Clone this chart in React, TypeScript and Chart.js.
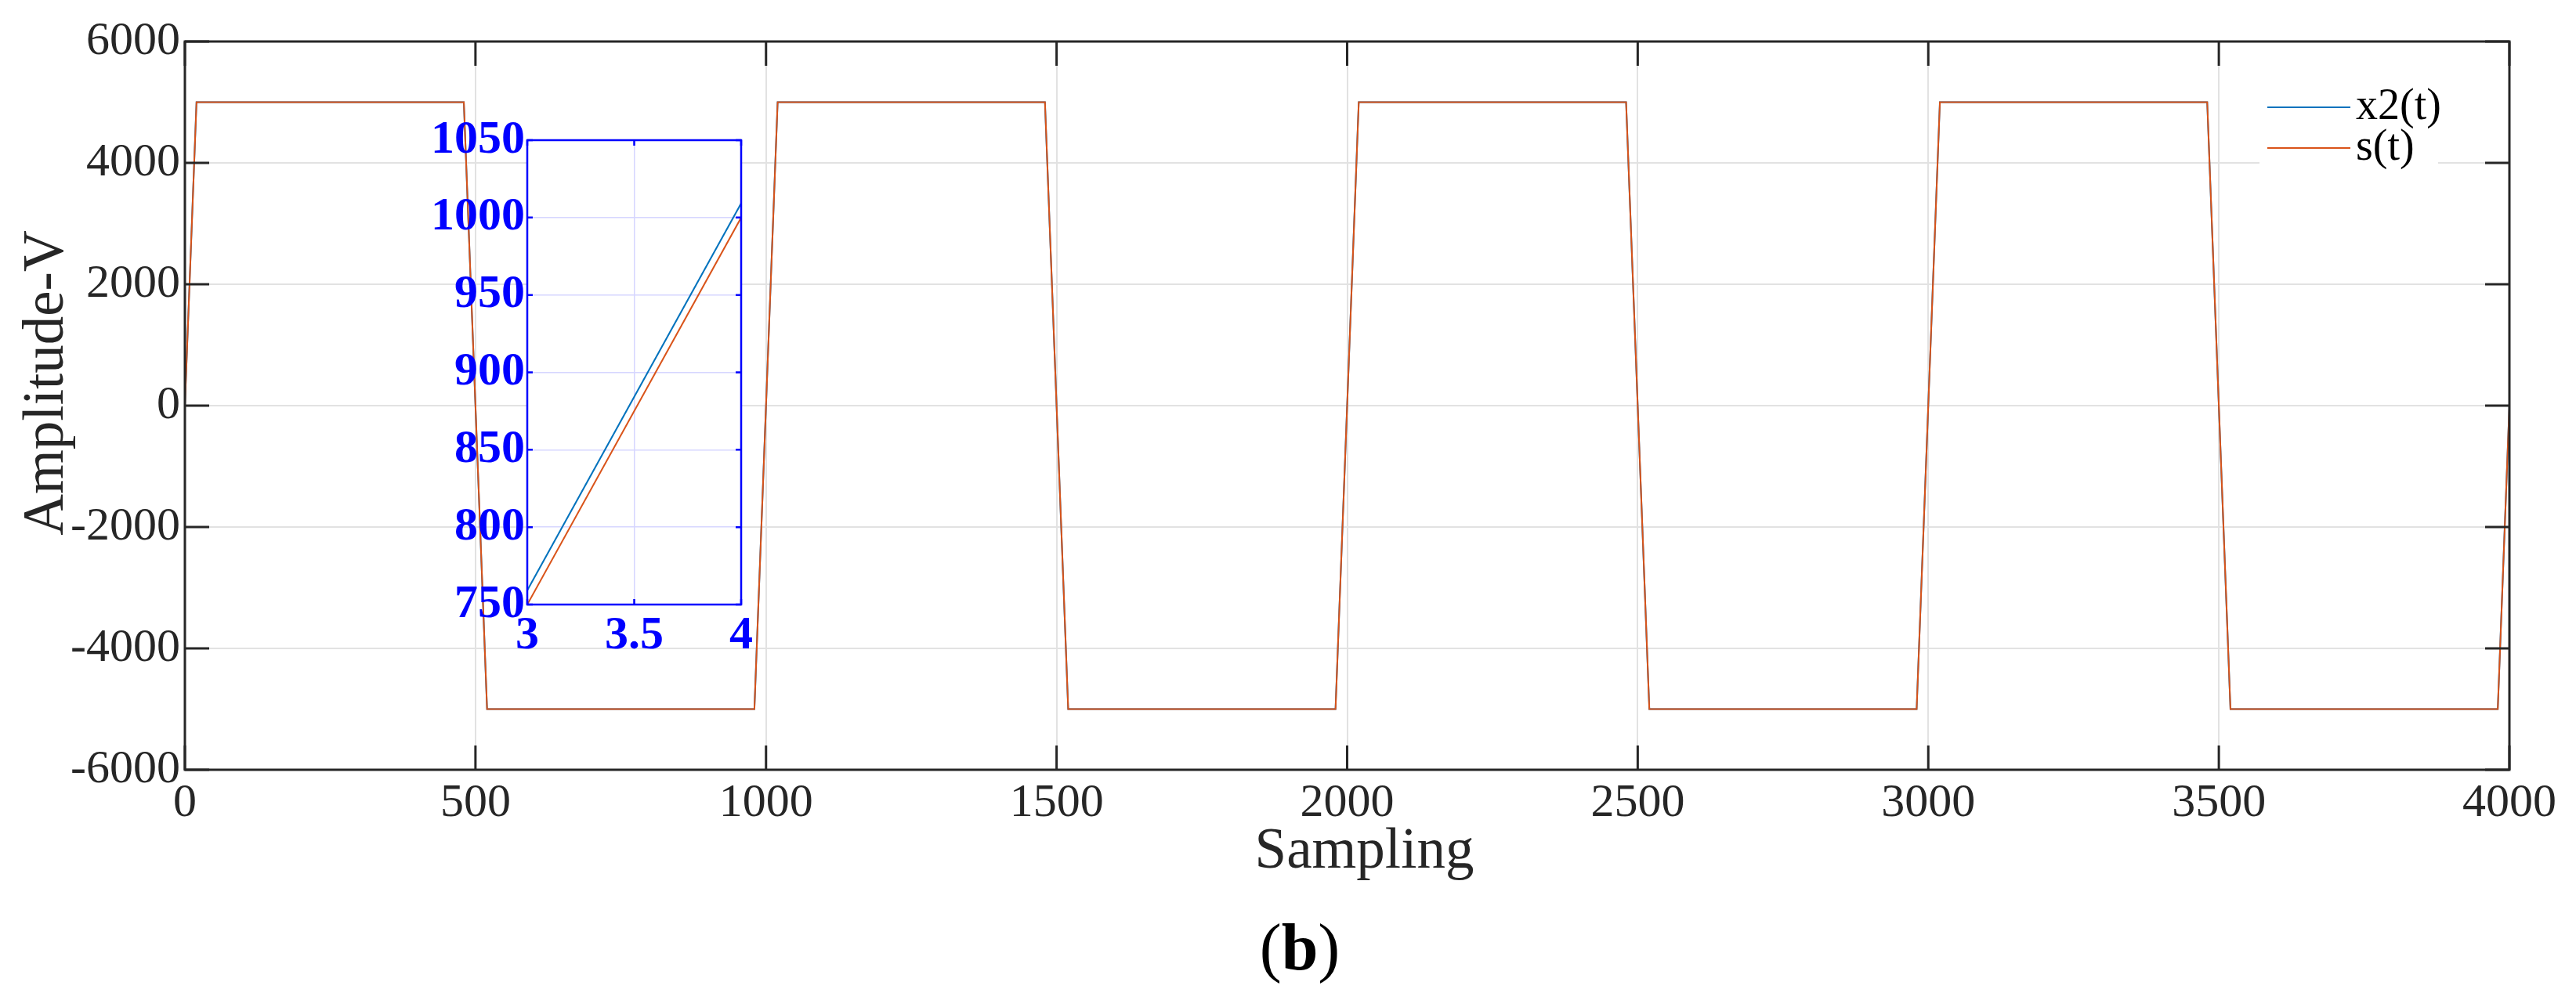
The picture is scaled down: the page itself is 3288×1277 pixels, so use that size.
import React, { useEffect, useRef } from 'react';
import { Chart, registerables } from 'chart.js';

Chart.register(...registerables);

// ---- data ----
const SERIES_LABELS = ['x2(t)', 's(t)'];
const SERIES_COLORS = ['#0072BD', '#D95319'];

// corner points of s(t) (sample index, amplitude)
const S_SAMPLES = [0, 20, 480, 520, 980, 1020, 1480, 1520, 1980, 2020, 2480, 2520, 2980, 3020, 3480, 3520, 3980, 4000];
const S_VALUES = [0, 5000, 5000, -5000, -5000, 5000, 5000, -5000, -5000, 5000, 5000, -5000, -5000, 5000, 5000, -5000, -5000, 0];

// corner points of x2(t) (slightly ahead of s(t), ~9 V higher on the ramps)
const X2_SAMPLES = [0, 19.96, 479.96, 519.96, 979.96, 1019.96, 1479.96, 1519.96, 1979.96, 2019.96, 2479.96, 2519.96, 2979.96, 3019.96, 3479.96, 3519.96, 3979.96, 4000];
const X2_VALUES = [9, 5000, 5000, -5000, -5000, 5000, 5000, -5000, -5000, 5000, 5000, -5000, -5000, 5000, 5000, -5000, -5000, 9];

const MAIN_X_TICKS = [0, 500, 1000, 1500, 2000, 2500, 3000, 3500, 4000];
const MAIN_Y_TICKS = [-6000, -4000, -2000, 0, 2000, 4000, 6000];
const INSET_X_TICKS = [3, 3.5, 4];
const INSET_Y_TICKS = [750, 800, 850, 900, 950, 1000, 1050];

const X_TITLE = 'Sampling';
const Y_TITLE = 'Amplitude-V';
const CAPTION_LETTER = 'b';

const SERIF = "'Liberation Serif', 'Times New Roman', serif";
const AXIS_COLOR = '#262626';
const INSET_COLOR = '#0000FF';

function buildDatasets(width: number) {
  const x2 = X2_SAMPLES.map((x, i) => ({ x, y: X2_VALUES[i] }));
  const s = S_SAMPLES.map((x, i) => ({ x, y: S_VALUES[i] }));
  return [
    { label: SERIES_LABELS[0], data: x2, order: 2, borderColor: SERIES_COLORS[0], borderWidth: width, pointRadius: 0, tension: 0, fill: false },
    { label: SERIES_LABELS[1], data: s, order: 1, borderColor: SERIES_COLORS[1], borderWidth: width, pointRadius: 0, tension: 0, fill: false },
  ];
}

const mainDecor = {
  id: 'mainDecor',
  afterDatasetsDraw(chart: any) {
    const { ctx, chartArea: a, scales } = chart;
    ctx.save();
    // inner ticks
    ctx.strokeStyle = AXIS_COLOR;
    ctx.lineWidth = 3;
    ctx.beginPath();
    const tl = 31;
    for (const t of scales.x.ticks) {
      const px = scales.x.getPixelForValue(t.value);
      ctx.moveTo(px, a.bottom); ctx.lineTo(px, a.bottom - tl);
      ctx.moveTo(px, a.top); ctx.lineTo(px, a.top + tl);
    }
    for (const t of scales.y.ticks) {
      const py = scales.y.getPixelForValue(t.value);
      ctx.moveTo(a.left, py); ctx.lineTo(a.left + tl, py);
      ctx.moveTo(a.right, py); ctx.lineTo(a.right - tl, py);
    }
    ctx.stroke();
    // box
    ctx.strokeRect(a.left, a.top, a.right - a.left, a.bottom - a.top);

    // legend (no border, white background)
    const lgLeft = a.right - 319;
    const lgTop = a.top + 45;
    ctx.fillStyle = '#ffffff';
    ctx.fillRect(lgLeft, lgTop, 228, 130);
    const rows = [a.top + 84, a.top + 136];
    chart.data.datasets.forEach((ds: any, i: number) => {
      const y = rows[i];
      ctx.strokeStyle = ds.borderColor;
      ctx.lineWidth = 2;
      ctx.beginPath();
      ctx.moveTo(lgLeft + 10, y);
      ctx.lineTo(lgLeft + 116, y);
      ctx.stroke();
      ctx.fillStyle = '#000000';
      ctx.font = `56px ${SERIF}`;
      ctx.textAlign = 'left';
      ctx.textBaseline = 'middle';
      ctx.fillText(ds.label, lgLeft + 123, y);
    });

    // axis titles
    ctx.fillStyle = AXIS_COLOR;
    ctx.font = `73px ${SERIF}`;
    ctx.textAlign = 'center';
    ctx.textBaseline = 'alphabetic';
    ctx.fillText(X_TITLE, (a.left + a.right) / 2 + 22, a.bottom + 125);
    ctx.save();
    ctx.translate(a.left - 156, (a.top + a.bottom) / 2 - 29);
    ctx.rotate(-Math.PI / 2);
    ctx.fillText(Y_TITLE, 0, 0);
    ctx.restore();

    // caption "(b)"
    ctx.fillStyle = '#000000';
    const cy = a.bottom + 255;
    ctx.font = `84px ${SERIF}`;
    const wp = ctx.measureText('(').width;
    const wq = ctx.measureText(')').width;
    ctx.font = `bold 84px ${SERIF}`;
    const wb = ctx.measureText(CAPTION_LETTER).width;
    let cx = 1659 - (wp + wb + wq) / 2;
    ctx.textAlign = 'left';
    ctx.font = `84px ${SERIF}`;
    ctx.fillText('(', cx, cy);
    cx += wp;
    ctx.font = `bold 84px ${SERIF}`;
    ctx.fillText(CAPTION_LETTER, cx, cy);
    cx += wb;
    ctx.font = `84px ${SERIF}`;
    ctx.fillText(')', cx, cy);
    ctx.restore();
  },
};

const insetDecor = {
  id: 'insetDecor',
  beforeDraw(chart: any) {
    const { ctx, chartArea: a } = chart;
    ctx.save();
    ctx.fillStyle = '#ffffff';
    ctx.fillRect(a.left, a.top, a.right - a.left, a.bottom - a.top);
    ctx.restore();
  },
  afterDatasetsDraw(chart: any) {
    const { ctx, chartArea: a, scales } = chart;
    ctx.save();
    ctx.strokeStyle = INSET_COLOR;
    ctx.lineWidth = 2.5;
    ctx.beginPath();
    const tl = 7;
    for (const t of scales.x.ticks) {
      const px = scales.x.getPixelForValue(t.value);
      ctx.moveTo(px, a.bottom); ctx.lineTo(px, a.bottom - tl);
      ctx.moveTo(px, a.top); ctx.lineTo(px, a.top + tl);
    }
    for (const t of scales.y.ticks) {
      const py = scales.y.getPixelForValue(t.value);
      ctx.moveTo(a.left, py); ctx.lineTo(a.left + tl, py);
      ctx.moveTo(a.right, py); ctx.lineTo(a.right - tl, py);
    }
    ctx.stroke();
    ctx.strokeRect(a.left, a.top, a.right - a.left, a.bottom - a.top);
    ctx.restore();
  },
};

const fmt = (v: any) => String(v);

export default function App() {
  const mainRef = useRef<HTMLCanvasElement | null>(null);
  const insetRef = useRef<HTMLCanvasElement | null>(null);

  useEffect(() => {
    document.body.style.margin = '0';
    const main = new Chart(mainRef.current as HTMLCanvasElement, {
      type: 'line',
      data: { datasets: buildDatasets(2) as any },
      options: {
        animation: false,
        responsive: false,
        devicePixelRatio: 1,
        layout: { padding: { left: 0, top: 53, right: 85, bottom: 0 } },
        plugins: { legend: { display: false }, tooltip: { enabled: false } },
        scales: {
          x: {
            type: 'linear',
            min: 0,
            max: 4000,
            afterBuildTicks: (s: any) => { s.ticks = MAIN_X_TICKS.map((v) => ({ value: v })); },
            afterFit: (s: any) => { s.height = 294; },
            grid: { color: '#e2e2e2', lineWidth: 2, drawTicks: false },
            border: { display: false },
            ticks: { callback: fmt, color: AXIS_COLOR, padding: 7, maxRotation: 0, autoSkip: false, font: { family: SERIF, size: 60 } },
          },
          y: {
            type: 'linear',
            min: -6000,
            max: 6000,
            afterBuildTicks: (s: any) => { s.ticks = MAIN_Y_TICKS.map((v) => ({ value: v })); },
            afterFit: (s: any) => { s.width = 236; },
            grid: { color: '#e2e2e2', lineWidth: 2, drawTicks: false },
            border: { display: false },
            ticks: { callback: fmt, color: AXIS_COLOR, padding: 6, autoSkip: false, font: { family: SERIF, size: 60 } },
          },
        },
      } as any,
      plugins: [mainDecor],
    });

    const inset = new Chart(insetRef.current as HTMLCanvasElement, {
      type: 'line',
      data: { datasets: buildDatasets(2) as any },
      options: {
        animation: false,
        responsive: false,
        devicePixelRatio: 1,
        layout: { padding: { left: 0, top: 35, right: 34, bottom: 0 } },
        plugins: { legend: { display: false }, tooltip: { enabled: false } },
        scales: {
          x: {
            type: 'linear',
            min: 3,
            max: 4,
            afterBuildTicks: (s: any) => { s.ticks = INSET_X_TICKS.map((v) => ({ value: v })); },
            afterFit: (s: any) => { s.height = 88; },
            grid: { color: '#d6d6ff', lineWidth: 1.5, drawTicks: false },
            border: { display: false },
            ticks: { callback: fmt, color: INSET_COLOR, padding: 4, maxRotation: 0, autoSkip: false, font: { family: SERIF, size: 60, weight: 'bold' } },
          },
          y: {
            type: 'linear',
            min: 750,
            max: 1050,
            afterBuildTicks: (s: any) => { s.ticks = INSET_Y_TICKS.map((v) => ({ value: v })); },
            afterFit: (s: any) => { s.width = 133; },
            grid: { color: '#d6d6ff', lineWidth: 1.5, drawTicks: false },
            border: { display: false },
            ticks: { callback: fmt, color: INSET_COLOR, padding: 3, autoSkip: false, font: { family: SERIF, size: 60, weight: 'bold' } },
          },
        },
      } as any,
      plugins: [insetDecor],
    });

    return () => {
      main.destroy();
      inset.destroy();
    };
  }, []);

  return (
    <div style={{ position: 'relative', width: 3288, height: 1277, background: '#ffffff' }}>
      <canvas ref={mainRef} width={3288} height={1277} style={{ position: 'absolute', left: 0, top: 0, width: 3288, height: 1277 }} />
      <canvas ref={insetRef} width={440} height={720} style={{ position: 'absolute', left: 540, top: 140, width: 440, height: 720 }} />
    </div>
  );
}
